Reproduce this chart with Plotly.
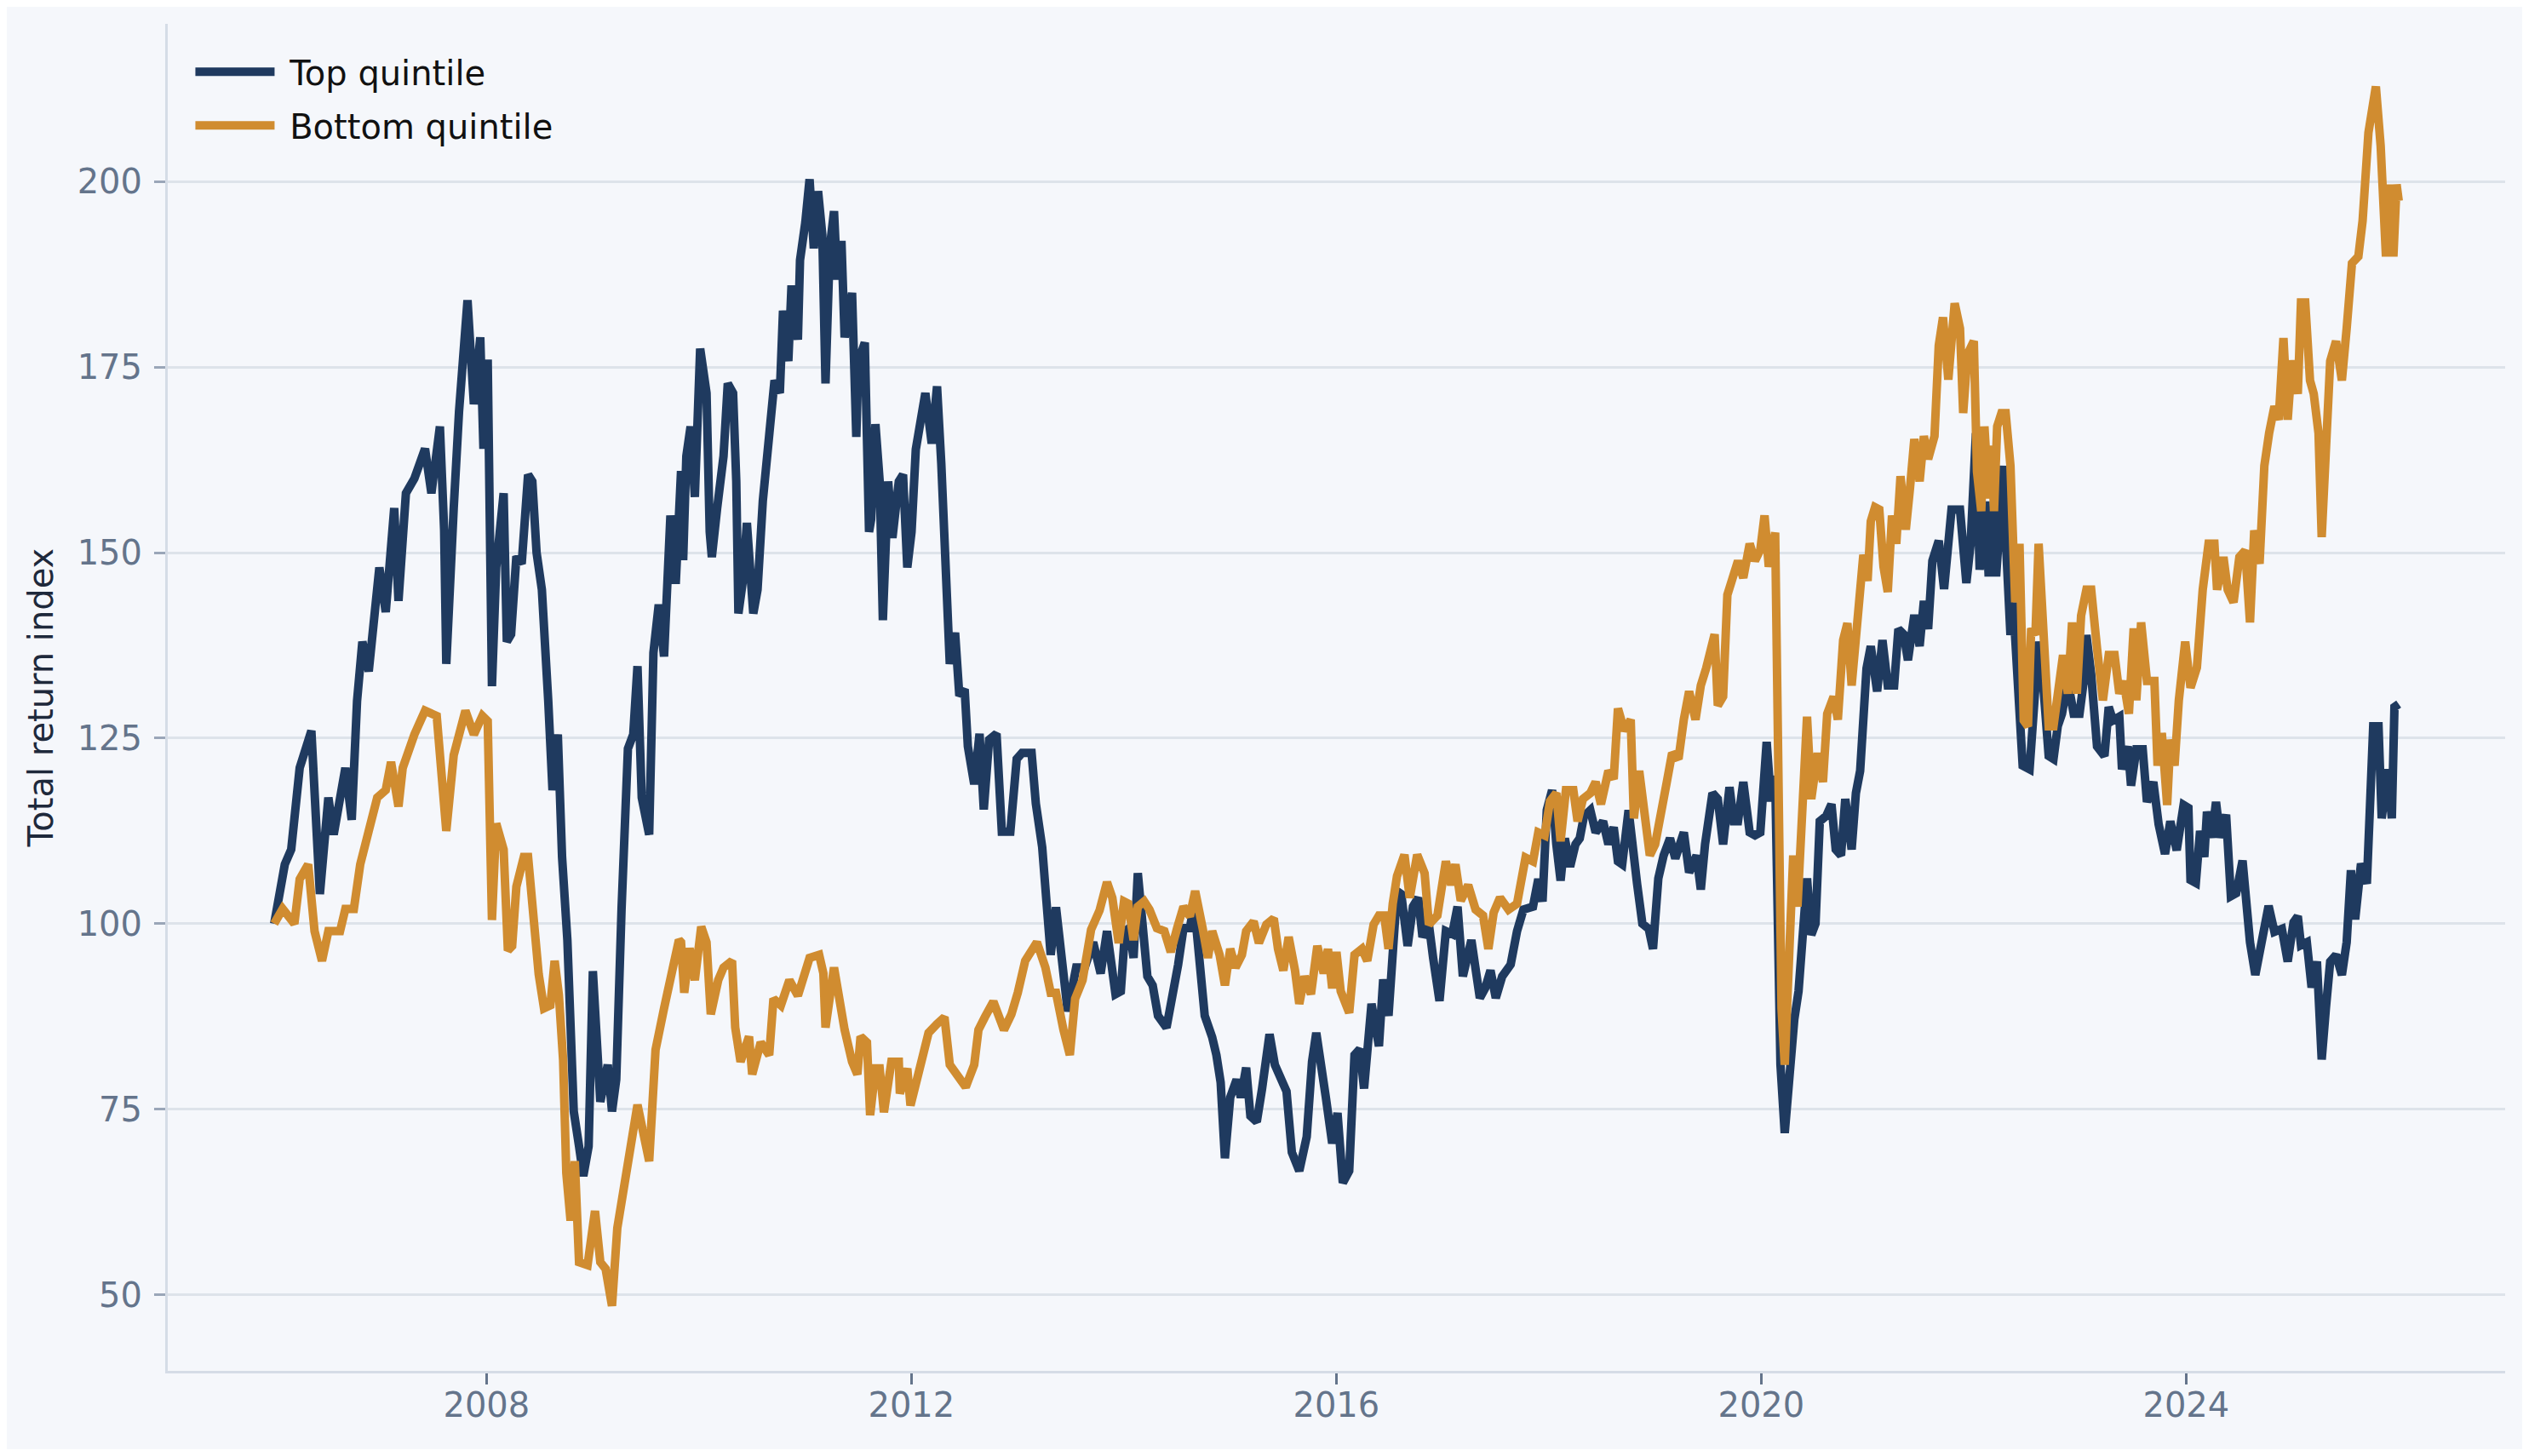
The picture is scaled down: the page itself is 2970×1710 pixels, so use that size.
import plotly.graph_objects as go
import pandas as pd

# --- Data (decimal year, index level) ---
top_t = [
    2006.0, 2006.06, 2006.1, 2006.16, 2006.24, 2006.35, 2006.38, 2006.43, 2006.51, 2006.56,
    2006.67, 2006.73, 2006.78, 2006.83, 2006.89, 2006.99, 2007.05, 2007.13, 2007.17, 2007.24,
    2007.32, 2007.42, 2007.48, 2007.56, 2007.6, 2007.62, 2007.69, 2007.74, 2007.82, 2007.88,
    2007.94, 2007.97, 2008.01, 2008.05, 2008.09, 2008.16, 2008.19, 2008.23, 2008.28, 2008.33,
    2008.39, 2008.43, 2008.47, 2008.52, 2008.58, 2008.62, 2008.67, 2008.71, 2008.76, 2008.82,
    2008.87, 2008.91, 2008.96, 2009.0, 2009.07, 2009.14, 2009.18, 2009.22, 2009.27, 2009.33,
    2009.38, 2009.42, 2009.46, 2009.53, 2009.57, 2009.62, 2009.67, 2009.73, 2009.78, 2009.83,
    2009.85, 2009.88, 2009.92, 2009.96, 2010.01, 2010.07, 2010.1, 2010.12, 2010.17, 2010.23,
    2010.27, 2010.32, 2010.35, 2010.37, 2010.41, 2010.45, 2010.51, 2010.55, 2010.6, 2010.64,
    2010.71, 2010.76, 2010.79, 2010.84, 2010.87, 2010.93, 2010.95, 2011.0, 2011.04, 2011.08,
    2011.12, 2011.16, 2011.19, 2011.23, 2011.27, 2011.3, 2011.34, 2011.37, 2011.44, 2011.48,
    2011.5, 2011.56, 2011.6, 2011.62, 2011.66, 2011.7, 2011.73, 2011.78, 2011.82, 2011.88,
    2011.92, 2011.96, 2012.0, 2012.04, 2012.09, 2012.13, 2012.19, 2012.24, 2012.28, 2012.32,
    2012.36, 2012.41, 2012.45, 2012.5, 2012.53, 2012.59, 2012.64, 2012.68, 2012.73, 2012.8,
    2012.85, 2012.93, 2012.99, 2013.04, 2013.13, 2013.17, 2013.23, 2013.27, 2013.31, 2013.36,
    2013.43, 2013.47, 2013.55, 2013.63, 2013.71, 2013.78, 2013.84, 2013.87, 2013.92, 2013.97,
    2014.01, 2014.05, 2014.09, 2014.13, 2014.17, 2014.22, 2014.27, 2014.32, 2014.4, 2014.46,
    2014.51, 2014.56, 2014.62, 2014.66, 2014.72, 2014.76, 2014.83, 2014.87, 2014.91, 2014.95,
    2015.0, 2015.06, 2015.1, 2015.15, 2015.19, 2015.25, 2015.3, 2015.37, 2015.42, 2015.47,
    2015.53, 2015.58, 2015.65, 2015.72, 2015.77, 2015.81, 2015.85, 2015.9, 2015.96, 2016.01,
    2016.06, 2016.12, 2016.17, 2016.22, 2016.26, 2016.33, 2016.4, 2016.44, 2016.49, 2016.53,
    2016.57, 2016.61, 2016.67, 2016.72, 2016.77, 2016.81, 2016.87, 2016.91, 2016.97, 2017.03,
    2017.09, 2017.14, 2017.19, 2017.27, 2017.35, 2017.4, 2017.45, 2017.5, 2017.56, 2017.64,
    2017.7, 2017.76, 2017.85, 2017.9, 2017.94, 2017.98, 2018.03, 2018.07, 2018.11, 2018.15,
    2018.2, 2018.25, 2018.29, 2018.33, 2018.39, 2018.44, 2018.51, 2018.56, 2018.61, 2018.65,
    2018.69, 2018.75, 2018.79, 2018.83, 2018.88, 2018.94, 2018.98, 2019.03, 2019.08, 2019.14,
    2019.19, 2019.27, 2019.32, 2019.39, 2019.43, 2019.47, 2019.54, 2019.59, 2019.64, 2019.7,
    2019.74, 2019.78, 2019.83, 2019.89, 2019.94, 2019.99, 2020.05, 2020.09, 2020.13, 2020.15,
    2020.18, 2020.22, 2020.27, 2020.31, 2020.35, 2020.39, 2020.43, 2020.47, 2020.51, 2020.55,
    2020.61, 2020.66, 2020.7, 2020.75, 2020.79, 2020.85, 2020.89, 2020.93, 2020.95, 2020.99,
    2021.03, 2021.09, 2021.14, 2021.19, 2021.25, 2021.29, 2021.34, 2021.38, 2021.44, 2021.49,
    2021.53, 2021.57, 2021.61, 2021.67, 2021.72, 2021.79, 2021.87, 2021.9, 2021.93, 2021.97,
    2022.0, 2022.02, 2022.055, 2022.11, 2022.14, 2022.18, 2022.21, 2022.25, 2022.28, 2022.3,
    2022.345, 2022.37, 2022.415, 2022.46, 2022.525, 2022.57, 2022.61, 2022.66, 2022.705, 2022.75,
    2022.79, 2022.83, 2022.885, 2022.94, 2022.995, 2023.035, 2023.06, 2023.105, 2023.16, 2023.23,
    2023.27, 2023.31, 2023.37, 2023.395, 2023.45, 2023.48, 2023.53, 2023.59, 2023.63, 2023.69,
    2023.74, 2023.8, 2023.85, 2023.91, 2023.975, 2024.02, 2024.04, 2024.09, 2024.13, 2024.17,
    2024.195, 2024.24, 2024.28, 2024.32, 2024.375, 2024.42, 2024.47, 2024.53, 2024.555, 2024.6,
    2024.65, 2024.71, 2024.775, 2024.83, 2024.9, 2024.955, 2025.01, 2025.05, 2025.08, 2025.135,
    2025.18, 2025.23, 2025.275, 2025.315, 2025.355, 2025.41, 2025.465, 2025.51, 2025.55, 2025.59,
    2025.645, 2025.7, 2025.76, 2025.81, 2025.84, 2025.895, 2025.935, 2025.96, 2026.0,
]
top_v = [
    100, 104, 108, 110, 121, 126, 118, 104, 117, 112,
    121, 114, 130, 138, 134, 148, 142, 156, 143.5, 158,
    160, 164, 158, 167, 153, 135, 156, 169, 184, 170,
    179, 164, 176, 132, 148, 158, 138, 139, 149.5, 148.5,
    160.5, 159.6, 150, 145, 130, 118, 125.5, 109, 97.8, 74.7,
    70, 66, 70, 93.6, 76, 81, 74.7, 79, 102, 123.6,
    125.5, 134.7, 117, 112, 136.5, 143, 136, 155, 145.8, 161,
    149, 163, 167, 157.5, 177.5, 171.5, 152.8, 149.4, 156, 163,
    172.8, 171.5, 159.6, 141.8, 146, 154, 141.8, 145, 157, 163.9,
    173.2, 171.5, 182.6, 175.8, 186, 178.7, 189.4, 194.5, 200.3, 191,
    198.7, 192.8, 172.8, 191, 196, 186.8, 192, 179, 185, 165.6,
    175.8, 178.3, 152.8, 154.5, 167.3, 159.6, 140.9, 159.6, 152, 159.6,
    160.5, 148, 152.8, 163.9, 168, 171.5, 164.7, 172.4, 162, 149.4,
    135, 139.2, 130.7, 131.6, 123.9, 118.8, 125.6, 115.4, 124.8, 125.6,
    112.4, 112.4, 122.2, 123, 123, 116.2, 110.3, 103, 95.8, 102.2,
    92.4, 88.2, 94.1, 94.1, 97.5, 93.3, 99, 95.4, 90.5, 90.9,
    99, 99.4, 95.4, 106.8, 100.7, 92.9, 91.7, 87.6, 86, 90,
    94.5, 99.4, 99.4, 102.7, 93.7, 87.6, 84.7, 82.3, 78.6, 68.4,
    76.6, 79, 76.6, 80.6, 74.1, 73.3, 77.8, 85.1, 81, 79,
    77.4, 69.2, 66.7, 71.3, 81.4, 85.3, 80.6, 76.6, 70.4, 74.5,
    65.1, 66.7, 82.3, 83.1, 77.8, 89.2, 83.5, 92.5, 87.6, 97.8,
    104.4, 104, 97, 102.3, 103.5, 98.2, 99.9, 95.4, 89.6, 99,
    98.6, 102.3, 92.9, 97.8, 90, 91.3, 93.7, 90, 92.9, 94.5,
    99, 101.9, 102.3, 106, 103, 115.3, 118, 110.7, 105.8, 111.5,
    107.7, 110.7, 111.5, 114.5, 115.3, 112.3, 113.8, 110.7, 113, 108.4,
    108, 115.3, 109.2, 105.4, 100, 99.3, 96.6, 106.1, 109.2, 111.5,
    108.8, 112.3, 106.9, 109.2, 104.6, 110.7, 117.6, 116.8, 110.7, 118.4,
    113.8, 113.8, 119.1, 112.3, 111.9, 112.3, 124.5, 116.5, 119.9, 105.4,
    81, 71.8, 81, 87.1, 90.9, 100, 106.1, 98.5, 100, 113.8,
    114.5, 116.1, 110, 109.2, 116.8, 110, 117.6, 120.6, 127.5, 134.4,
    137.4, 131.3, 138.2, 132.1, 132.1, 139.7, 139, 135.5, 141.6, 137.4,
    143.5, 139.7, 148.9, 151.6, 145.1, 155.8, 155.8, 152, 145.9, 151.2,
    162.6, 166.1, 147.7, 156.9, 146.8, 155.6, 146.8, 155.6, 161.7, 152.1,
    138.9, 143.3, 131, 121.3, 120.8, 128.3, 138, 131, 122.6, 122.2,
    126.6, 128.3, 132.7, 128.3, 128.3, 132.7, 138.9, 133.6, 123.9, 122.6,
    129.2, 127.4, 127.9, 120.8, 123.9, 118.6, 123.5, 123.5, 116.4, 119.1,
    113.4, 109.4, 113.8, 109.9, 116, 115.6, 105.9, 105.5, 112.5, 109,
    115.1, 111.6, 116.4, 111.6, 114.7, 103.7, 104.1, 108.5, 103.3, 97.5,
    93.1, 97.5, 102.4, 98.9, 99.3, 94.9, 100.2, 101, 97.1, 97.5,
    91.4, 94.9, 81.7, 88.7, 94.9, 95.8, 93.1, 97.5, 107.2, 100.6,
    108.1, 105.4, 126.6, 126.6, 114.2, 120.8, 114.2, 129.2, 129.6,
]

bottom_t = [
    2006.0, 2006.08, 2006.19, 2006.24, 2006.32, 2006.38, 2006.45, 2006.51, 2006.62, 2006.67,
    2006.75, 2006.81, 2006.89, 2006.97, 2007.05, 2007.1, 2007.17, 2007.21, 2007.32, 2007.42,
    2007.53, 2007.58, 2007.62, 2007.69, 2007.8, 2007.88, 2007.96, 2008.01, 2008.05, 2008.09,
    2008.16, 2008.2, 2008.24, 2008.28, 2008.35, 2008.39, 2008.44, 2008.49, 2008.54, 2008.6,
    2008.64, 2008.68, 2008.72, 2008.75, 2008.79, 2008.83, 2008.87, 2008.95, 2009.02, 2009.07,
    2009.12, 2009.18, 2009.23, 2009.29, 2009.35, 2009.42, 2009.53, 2009.59, 2009.67, 2009.73,
    2009.81, 2009.83, 2009.86, 2009.91, 2009.96, 2010.02, 2010.07, 2010.11, 2010.18, 2010.23,
    2010.31, 2010.34, 2010.39, 2010.47, 2010.5, 2010.58, 2010.66, 2010.7, 2010.77, 2010.85,
    2010.93, 2011.04, 2011.13, 2011.17, 2011.19, 2011.27, 2011.32, 2011.37, 2011.44, 2011.49,
    2011.52, 2011.58, 2011.61, 2011.66, 2011.7, 2011.74, 2011.81, 2011.88, 2011.89, 2011.96,
    2011.99, 2012.05, 2012.11, 2012.16, 2012.24, 2012.31, 2012.36, 2012.44, 2012.51, 2012.59,
    2012.63, 2012.69, 2012.77, 2012.87, 2012.94, 2013.0, 2013.07, 2013.18, 2013.26, 2013.31,
    2013.36, 2013.43, 2013.49, 2013.54, 2013.61, 2013.69, 2013.77, 2013.84, 2013.89, 2013.95,
    2014.0, 2014.04, 2014.09, 2014.13, 2014.19, 2014.24, 2014.31, 2014.38, 2014.44, 2014.5,
    2014.56, 2014.62, 2014.67, 2014.74, 2014.79, 2014.83, 2014.9, 2014.95, 2015.0, 2015.05,
    2015.11, 2015.15, 2015.22, 2015.27, 2015.34, 2015.41, 2015.45, 2015.5, 2015.55, 2015.61,
    2015.65, 2015.7, 2015.76, 2015.82, 2015.88, 2015.92, 2015.96, 2016.0, 2016.04, 2016.12,
    2016.17, 2016.24, 2016.29, 2016.35, 2016.4, 2016.45, 2016.49, 2016.53, 2016.57, 2016.64,
    2016.69, 2016.76, 2016.83, 2016.87, 2016.95, 2017.03, 2017.08, 2017.12, 2017.17, 2017.24,
    2017.31, 2017.38, 2017.43, 2017.48, 2017.54, 2017.62, 2017.7, 2017.78, 2017.85, 2017.9,
    2017.96, 2018.01, 2018.07, 2018.11, 2018.16, 2018.23, 2018.27, 2018.32, 2018.39, 2018.44,
    2018.49, 2018.56, 2018.61, 2018.65, 2018.71, 2018.77, 2018.8, 2018.85, 2018.91, 2018.95,
    2019.0, 2019.06, 2019.11, 2019.16, 2019.22, 2019.27, 2019.32, 2019.38, 2019.43, 2019.48,
    2019.52, 2019.56, 2019.59, 2019.64, 2019.68, 2019.72, 2019.78, 2019.83, 2019.89, 2019.94,
    2019.99, 2020.03, 2020.07, 2020.13, 2020.15, 2020.19, 2020.22, 2020.26, 2020.3, 2020.34,
    2020.39, 2020.43, 2020.47, 2020.53, 2020.58, 2020.62, 2020.68, 2020.72, 2020.77, 2020.81,
    2020.85, 2020.91, 2020.96, 2021.0, 2021.03, 2021.07, 2021.11, 2021.15, 2021.19, 2021.23,
    2021.27, 2021.31, 2021.36, 2021.4, 2021.44, 2021.49, 2021.53, 2021.57, 2021.63, 2021.67,
    2021.71, 2021.76, 2021.82, 2021.87, 2021.9, 2021.94, 2022.0, 2022.03, 2022.07, 2022.1,
    2022.14, 2022.17, 2022.19, 2022.22, 2022.26, 2022.3, 2022.345, 2022.39, 2022.43, 2022.47,
    2022.51, 2022.54, 2022.58, 2022.61, 2022.65, 2022.705, 2022.75, 2022.8, 2022.84, 2022.885,
    2022.925, 2022.97, 2023.01, 2023.06, 2023.105, 2023.16, 2023.215, 2023.27, 2023.325, 2023.37,
    2023.41, 2023.46, 2023.505, 2023.53, 2023.575, 2023.63, 2023.7, 2023.73, 2023.77, 2023.82,
    2023.85, 2023.89, 2023.93, 2023.99, 2024.04, 2024.1, 2024.155, 2024.21, 2024.265, 2024.29,
    2024.35, 2024.39, 2024.445, 2024.5, 2024.555, 2024.6, 2024.64, 2024.69, 2024.735, 2024.78,
    2024.83, 2024.87, 2024.915, 2024.955, 2024.995, 2025.05, 2025.08, 2025.12, 2025.165, 2025.2,
    2025.245, 2025.275, 2025.315, 2025.355, 2025.41, 2025.465, 2025.51, 2025.56, 2025.62, 2025.66,
    2025.715, 2025.76, 2025.785, 2025.83, 2025.855, 2025.88, 2025.91, 2025.95, 2025.98, 2026.0,
]
bottom_v = [
    100, 102, 100, 106, 108, 99, 95, 99, 99, 102,
    102, 108, 112.5, 117, 118, 121.8, 115.8, 121, 125.5, 128.7,
    128, 120, 112.5, 122.7, 128.7, 125.5, 128, 127.3, 100.5, 113.5,
    110, 96.4, 97, 105, 109, 109, 99.6, 93.2, 88.6, 89,
    95, 90.4, 81.6, 66.4, 60, 68, 54.4, 54, 61.3, 54.4,
    53.5, 48.5, 59, 64.6, 70, 75.6, 68, 83, 88.6, 93,
    97.8, 97.5, 90.7, 96.7, 92.4, 99.6, 97.5, 87.8, 92.4, 94.1,
    95, 86, 81.4, 84.8, 79.7, 84, 82.3, 89.9, 89, 92.4,
    90.3, 95.4, 95.8, 93.3, 86, 94.1, 89, 85.7, 81.4, 79.7,
    84.8, 84, 74.2, 80.5, 80.5, 74.6, 81.4, 81.4, 77.1, 80.5,
    75.5, 78.8, 82.3, 85.3, 86.5, 87.4, 81, 79.3, 78, 81,
    85.7, 87.4, 89.5, 85.7, 87.8, 90.7, 95, 97.5, 94.1, 90.7,
    90.7, 85.7, 82.3, 89.9, 92.4, 99.2, 101.8, 105.6, 103.5, 97.4,
    103, 102.7, 97.8, 102.3, 103, 101.9, 99.4, 99, 96.2, 99.4,
    102.3, 101, 104.4, 99.4, 95.4, 99, 95.8, 91.7, 96.6, 94.1,
    95.8, 99, 100.3, 97.4, 99.9, 100.7, 96.6, 93.7, 98.2, 93.7,
    89.2, 92.9, 90.5, 97, 93.3, 96.6, 91.3, 96.2, 90.9, 88,
    95.8, 96.6, 95, 99.9, 101.1, 101.1, 96.6, 102.7, 106.4, 109.3,
    103.5, 109.3, 106.8, 99.9, 101.1, 108.4, 105.2, 108, 103.1, 105.2,
    101.9, 101.1, 96.6, 101.5, 103.5, 101.9, 102.7, 108.9, 108.4, 112.3,
    111.9, 116.5, 117.6, 111.1, 118, 118, 113.8, 116.8, 117.6, 119.1,
    116.1, 120.6, 119.5, 129, 126, 127.5, 114.2, 120.6, 112.3, 109.2,
    110.7, 116.1, 119.1, 123, 122.2, 127.5, 131.3, 127.5, 132.1, 134.4,
    137.4, 139, 129.4, 130.6, 144.3, 146.2, 148.9, 146.6, 151.2, 148.9,
    150.4, 155, 148.1, 152.7, 130.6, 88.6, 81, 92.4, 109.2, 102.3,
    120.6, 127.9, 116.8, 123, 119.1, 128.3, 130.6, 127.5, 138.2, 140.5,
    132.1, 142.8, 149.7, 146.2, 154.2, 156.1, 155.8, 148.1, 144.7, 155,
    151.2, 160.3, 153.1, 158.8, 165.3, 159.6, 165.7, 162.6, 165.7, 177.9,
    181.7, 173.3, 183.6, 180.2, 168.8, 176.7, 178.5, 160.9, 155.6, 167,
    157.3, 164.4, 155.6, 167, 168.8, 168.8, 161.7, 143.3, 151.2, 127.4,
    126.6, 139.8, 138.9, 151.2, 138.9, 126.6, 126.6, 132.7, 136.2, 131,
    140.6, 131, 141.5, 145, 145, 137.1, 130.1, 136.2, 136.2, 131,
    132.7, 128.3, 139.8, 130.1, 140.6, 132.7, 132.7, 121.3, 125.7, 116,
    124.8, 121.3, 130.1, 138, 131.8, 134.5, 145, 151.2, 151.2, 145,
    149.4, 145, 143.3, 149.4, 150.3, 140.6, 153, 148.5, 161.7, 166.1,
    169.7, 167.9, 178.9, 167.9, 175.9, 171.4, 183.7, 183.7, 173.2, 171.4,
    166.1, 152.1, 162.6, 175.8, 178.5, 173.2, 180.2, 189, 189.9, 194.7,
    206.6, 210.1, 212.8, 204.8, 194.3, 189.9, 199.6, 189.9, 199.6, 197.4,
]

series_names = ["Top quintile", "Bottom quintile"]
series_colors = ["#1f3a5f", "#d08c30"]
y_ticks = [50, 75, 100, 125, 150, 175, 200]


def to_dates(years):
    """Decimal years -> timestamps."""
    base = pd.Timestamp("2006-01-01")
    return [base + pd.Timedelta(days=(y - 2006) * 365.25) for y in years]


fig = go.Figure()
for i, (name, color, t, v) in enumerate([
    (series_names[0], series_colors[0], top_t, top_v),
    (series_names[1], series_colors[1], bottom_t, bottom_v),
]):
    fig.add_trace(go.Scatter(
        x=to_dates(t), y=v, mode="lines",
        name="\u00a0" + name,  # small gap between legend line and label
        legendgroup=f"g{i}",
        line=dict(color=color, width=10),
    ))

BG = "#f5f7fb"
TICK = "#64748b"
# the page body adds an 8px offset, so the figure is shrunk to fit the window
fig.update_layout(
    width=2954, height=1694,
    paper_bgcolor=BG, plot_bgcolor=BG,
    margin=dict(l=189, r=20, t=20, b=92),
    font=dict(family="DejaVu Sans", size=40, color="#1e293b"),
    showlegend=True,
    legend=dict(
        x=0.01, y=0.985, xanchor="left", yanchor="top",
        bgcolor="rgba(0,0,0,0)", font=dict(size=40, color="#111111"),
        itemwidth=93, tracegroupgap=8,
    ),
)
fig.update_xaxes(
    type="date",
    range=["2004-12-31", "2027-01-02"],
    tick0="2008-01-01", dtick="M48", tickformat="%Y",
    showgrid=False, zeroline=False,
    showline=True, linecolor="#d5dce6", linewidth=3,
    ticks="outside", ticklen=13, tickwidth=2.5, tickcolor=TICK,
    tickfont=dict(size=40, color=TICK),
    ticklabelstandoff=-10,
)
fig.update_yaxes(
    range=[39.75, 221.25],
    tickvals=y_ticks,
    showgrid=True, gridcolor="#dde3ea", gridwidth=2.5,
    zeroline=False,
    showline=True, linecolor="#d5dce6", linewidth=3,
    ticks="outside", ticklen=13, tickwidth=2.5, tickcolor="#9aa6b8",
    tickfont=dict(size=40, color=TICK),
    ticklabelstandoff=6,
    title=dict(text="Total return index", font=dict(size=40, color="#1e293b"), standoff=16),
)

fig.write_html("out.html")
